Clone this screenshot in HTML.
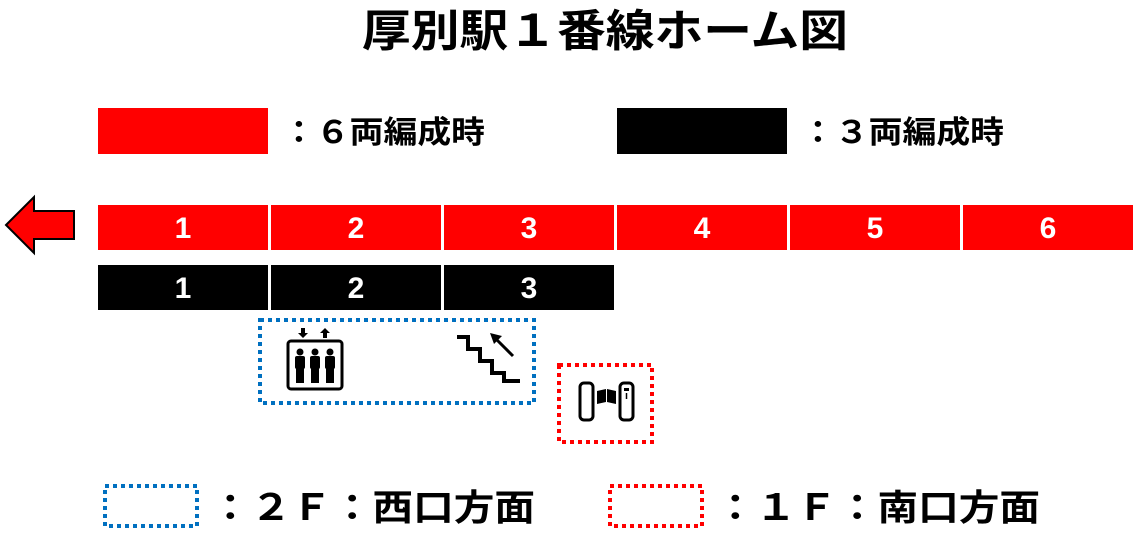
<!DOCTYPE html>
<html><head><meta charset="utf-8"><style>
html,body{margin:0;padding:0;background:#fff;}
svg{display:block;}
text{font-family:"Liberation Sans","Noto Sans CJK JP",sans-serif;font-weight:bold;}
</style></head><body>
<svg width="1135" height="538" viewBox="0 0 1135 538" xmlns="http://www.w3.org/2000/svg">
<text x="362" y="46" font-size="44" textLength="486" lengthAdjust="spacingAndGlyphs">厚別駅１番線ホーム図</text>
<rect x="98" y="108" width="170" height="46" fill="#f00"/>
<text x="282" y="143" font-size="31" textLength="203" lengthAdjust="spacingAndGlyphs">：６両編成時</text>
<rect x="617" y="108" width="170" height="46" fill="#000"/>
<text x="801" y="143" font-size="31" textLength="203" lengthAdjust="spacingAndGlyphs">：３両編成時</text>
<polygon points="6,225 34,197 34,211 74,211 74,239 34,239 34,253" fill="#f00" stroke="#000" stroke-width="2"/>
<g fill="#f00">
<rect x="98" y="205" width="170" height="45"/><rect x="271" y="205" width="170" height="45"/><rect x="444" y="205" width="170" height="45"/>
<rect x="617" y="205" width="170" height="45"/><rect x="790" y="205" width="170" height="45"/><rect x="963" y="205" width="170" height="45"/>
</g>
<g fill="#fff" font-size="30" text-anchor="middle">
<text x="183" y="238">1</text><text x="356" y="238">2</text><text x="529" y="238">3</text>
<text x="702" y="238">4</text><text x="875" y="238">5</text><text x="1048" y="238">6</text>
</g>
<g fill="#000">
<rect x="98" y="265" width="170" height="45"/><rect x="271" y="265" width="170" height="45"/><rect x="444" y="265" width="170" height="45"/>
</g>
<g fill="#fff" font-size="30" text-anchor="middle">
<text x="183" y="298">1</text><text x="356" y="298">2</text><text x="529" y="298">3</text>
</g>
<rect x="260" y="320" width="274" height="83" fill="none" stroke="#0070c0" stroke-width="4" stroke-dasharray="4 4"/>
<rect x="559" y="365" width="93" height="77" fill="none" stroke="#f00" stroke-width="4" stroke-dasharray="4 4"/>
<!-- elevator -->
<rect x="288" y="341" width="54" height="48" rx="3" fill="none" stroke="#000" stroke-width="3"/>
<polygon points="301,328 305,328 305,333 308,333 303,338 298,333 301,333" fill="#000"/>
<polygon points="323,338 327,338 327,333 330,333 325,328 320,333 323,333" fill="#000"/>
<g fill="#000">
<circle cx="300" cy="352" r="3.5"/><rect x="295" y="356" width="10" height="13" rx="2"/><rect x="296" y="368" width="8" height="15"/>
<circle cx="315" cy="352" r="3.5"/><rect x="310" y="356" width="10" height="13" rx="2"/><rect x="311" y="368" width="8" height="15"/>
<circle cx="330" cy="352" r="3.5"/><rect x="325" y="356" width="10" height="13" rx="2"/><rect x="326" y="368" width="8" height="15"/>
</g>
<!-- stairs -->
<polyline points="457,337 468,337 468,349 480,349 480,361 492,361 492,373 504,373 504,381 520,381" fill="none" stroke="#000" stroke-width="4"/>
<line x1="513" y1="356" x2="496" y2="339" stroke="#000" stroke-width="3"/>
<polygon points="490,333 502,336 494,344" fill="#000"/>
<!-- gate -->
<rect x="580" y="383" width="13" height="37" rx="4" fill="none" stroke="#000" stroke-width="3"/>
<rect x="620" y="383" width="13" height="37" rx="4" fill="none" stroke="#000" stroke-width="3"/>
<polygon points="597,391 606,389 606,402 597,404" fill="#000"/>
<polygon points="607,389 616,391 616,404 607,402" fill="#000"/>
<rect x="624" y="388" width="5" height="3" fill="#000"/><line x1="626.5" y1="393" x2="626.5" y2="399" stroke="#000" stroke-width="1.5"/>
<!-- legend -->
<rect x="105" y="486" width="92" height="40" fill="none" stroke="#0070c0" stroke-width="4" stroke-dasharray="4 4"/>
<text x="210" y="520" font-size="36" textLength="325" lengthAdjust="spacingAndGlyphs">：２Ｆ：西口方面</text>
<rect x="610" y="486" width="92" height="40" fill="none" stroke="#f00" stroke-width="4" stroke-dasharray="4 4"/>
<text x="715" y="520" font-size="36" textLength="325" lengthAdjust="spacingAndGlyphs">：１Ｆ：南口方面</text>
</svg>
</body></html>
